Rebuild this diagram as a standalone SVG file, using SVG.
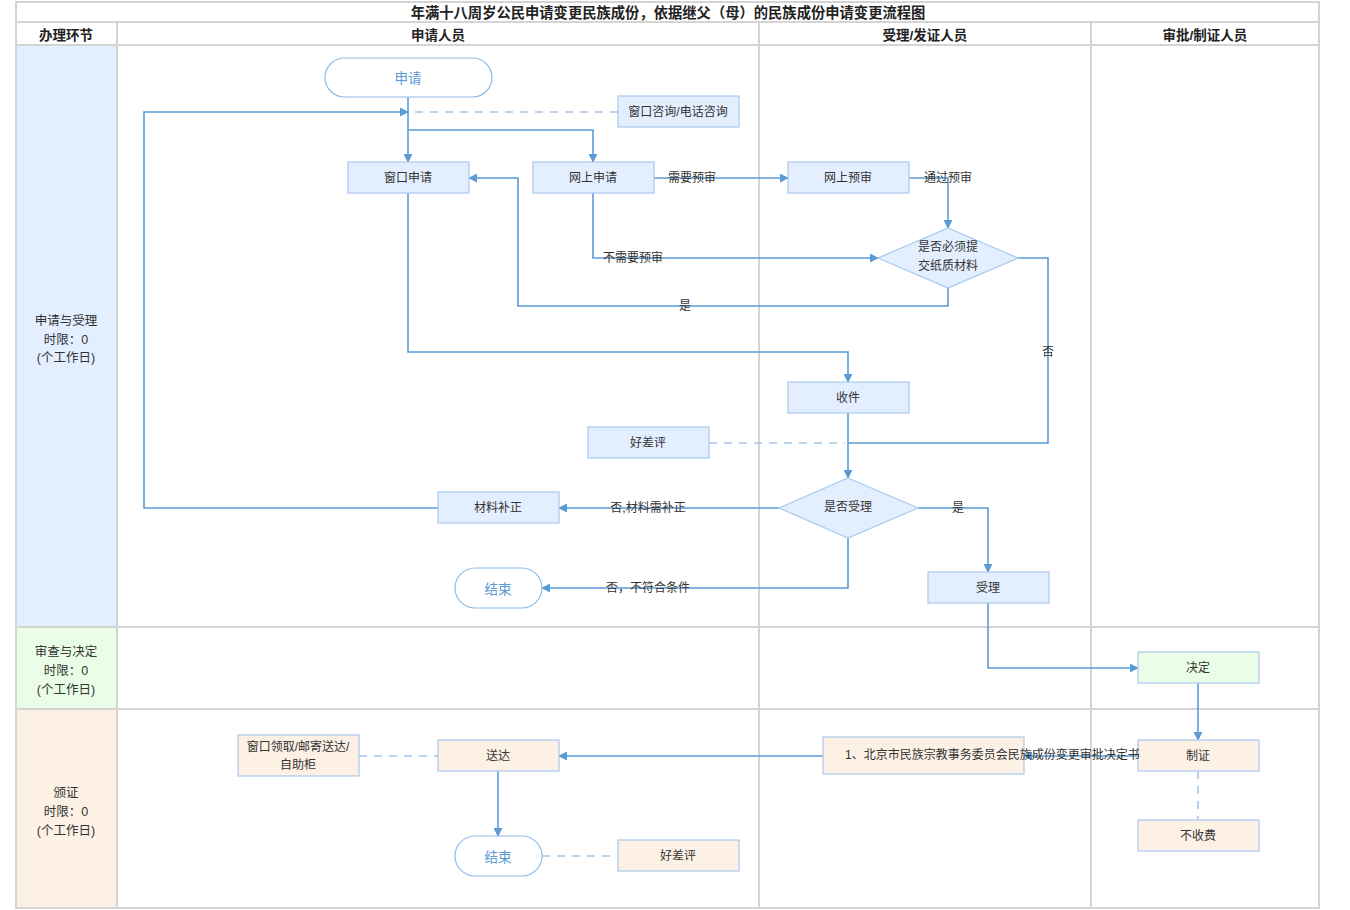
<svg xmlns="http://www.w3.org/2000/svg" width="1350" height="910" viewBox="0 0 1350 910">
<style>
text{font-family:"Liberation Sans","Noto Sans CJK SC",sans-serif;font-size:12px;fill:#333;text-anchor:middle;dominant-baseline:central}
.hd{font-size:13.5px;font-weight:bold;fill:#222}
.ti{font-size:14.3px;font-weight:bold;fill:#222}
.lb{font-size:12.5px}
.grid{stroke:#d4d4d4;stroke-width:2;fill:none}
.n{fill:#e3eeff;stroke:#a9c9ee;stroke-width:1.2}
.g{fill:#eafde6;stroke:#a9c9ee;stroke-width:1.2}
.o{fill:#fdf1e6;stroke:#a9c9ee;stroke-width:1.2}
.t{fill:#fff;stroke:#8fbbe6;stroke-width:1.2}
.tt{fill:#5b9bd5;font-size:13.5px}
.e{fill:none;stroke:#5b9bd5;stroke-width:1.6}
.ea{fill:none;stroke:#5b9bd5;stroke-width:1.6;marker-end:url(#ah)}
.d{fill:none;stroke:#a3c6ea;stroke-width:1.6;stroke-dasharray:8 7}
</style>
<defs>
<marker id="ah" viewBox="0 0 10 10" refX="9" refY="5" markerWidth="9" markerHeight="9" markerUnits="userSpaceOnUse" orient="auto"><path d="M0,0 L10,5 L0,10 z" fill="#5b9bd5"/></marker>
</defs>
<rect width="1350" height="910" fill="#fff"/>
<g id="lanes">
<rect x="16" y="45" width="101" height="582" fill="#e3eeff"/>
<rect x="16" y="627" width="101" height="82" fill="#eafde6"/>
<rect x="16" y="709" width="101" height="199" fill="#fdf1e6"/>
<rect class="grid" x="16" y="2" width="1303" height="906"/>
<line class="grid" x1="16" y1="22" x2="1319" y2="22"/>
<line class="grid" x1="16" y1="45" x2="1319" y2="45"/>
<line class="grid" x1="16" y1="627" x2="1319" y2="627"/>
<line class="grid" x1="16" y1="709" x2="1319" y2="709"/>
<line class="grid" x1="117" y1="22" x2="117" y2="908"/>
<line class="grid" x1="759" y1="22" x2="759" y2="908"/>
<line class="grid" x1="1091" y1="22" x2="1091" y2="908"/>
<text class="ti" x="668" y="13">年满十八周岁公民申请变更民族成份，依据继父（母）的民族成份申请变更流程图</text>
<text class="hd" x="66" y="35">办理环节</text>
<text class="hd" x="438" y="35">申请人员</text>
<text class="hd" x="925" y="35">受理/发证人员</text>
<text class="hd" x="1205" y="35">审批/制证人员</text>
<text class="lb" x="66" y="321">申请与受理</text><text class="lb" x="66" y="340">时限：0</text><text class="lb" x="66" y="358">(个工作日)</text>
<text class="lb" x="66" y="652">审查与决定</text><text class="lb" x="66" y="671">时限：0</text><text class="lb" x="66" y="690">(个工作日)</text>
<text class="lb" x="66" y="793">颁证</text><text class="lb" x="66" y="812">时限：0</text><text class="lb" x="66" y="831">(个工作日)</text>
</g>
<g id="connectors">
<line class="ea" x1="408" y1="97" x2="408" y2="162"/>
<polyline class="ea" points="408,130 593,130 593,162"/>
<polyline class="ea" points="438,508 144,508 144,112 408,112"/>
<line class="d" x1="618" y1="112" x2="412" y2="112"/>
<line class="ea" x1="654" y1="178" x2="788" y2="178"/>
<text x="692" y="178">需要预审</text>
<polyline class="ea" points="909,178 948,178 948,228"/>
<text x="948" y="178">通过预审</text>
<polyline class="ea" points="593,193 593,258 878,258"/>
<text x="633" y="258">不需要预审</text>
<polyline class="ea" points="948,288 948,306 518,306 518,178 469,178"/>
<text x="685" y="306">是</text>
<polyline class="e" points="1018,258 1048,258 1048,443 848,443"/>
<text x="1048" y="352">否</text>
<polyline class="ea" points="408,193 408,352 848,352 848,382"/>
<line class="ea" x1="848" y1="413" x2="848" y2="478"/>
<line class="d" x1="709" y1="443" x2="845" y2="443"/>
<line class="ea" x1="779" y1="508" x2="559" y2="508"/>
<text x="648" y="508">否,材料需补正</text>
<polyline class="ea" points="848,538 848,588 542,588"/>
<text x="648" y="588">否，不符合条件</text>
<polyline class="ea" points="918,508 988,508 988,572"/>
<text x="958" y="508">是</text>
<polyline class="ea" points="988,603 988,668 1138,668"/>
<line class="ea" x1="1198" y1="683" x2="1198" y2="740"/>
<line class="ea" x1="1138" y1="756" x2="1024" y2="756"/>
<line class="ea" x1="823" y1="756" x2="559" y2="756"/>
<line class="d" x1="1198" y1="771" x2="1198" y2="820"/>
<line class="d" x1="359" y1="756" x2="438" y2="756"/>
<line class="ea" x1="498" y1="771" x2="498" y2="836"/>
<line class="d" x1="542" y1="856" x2="618" y2="856"/>
</g>
<g id="n-start"><rect class="t" x="325" y="58" width="167" height="39" rx="19.5"/><text class="tt" x="408" y="78">申请</text></g>
<g id="n-consult"><rect class="n" x="618" y="96" width="121" height="31"/><text x="678" y="112">窗口咨询/电话咨询</text></g>
<g id="n-window"><rect class="n" x="348" y="162" width="121" height="31"/><text x="408" y="178">窗口申请</text></g>
<g id="n-online"><rect class="n" x="533" y="162" width="121" height="31"/><text x="593" y="178">网上申请</text></g>
<g id="n-precheck"><rect class="n" x="788" y="162" width="121" height="31"/><text x="848" y="178">网上预审</text></g>
<g id="n-paper"><polygon class="n" points="948,228 1018,258 948,288 878,258"/><text x="948" y="247">是否必须提</text><text x="948" y="266">交纸质材料</text></g>
<g id="n-receive"><rect class="n" x="788" y="382" width="121" height="31"/><text x="848" y="398">收件</text></g>
<g id="n-eval1"><rect class="n" x="588" y="427" width="121" height="31"/><text x="648" y="443">好差评</text></g>
<g id="n-accept-q"><polygon class="n" points="848,478 918,508 848,538 779,508"/><text x="848" y="507">是否受理</text></g>
<g id="n-supplement"><rect class="n" x="438" y="492" width="121" height="31"/><text x="498" y="508">材料补正</text></g>
<g id="n-end1"><rect class="t" x="455" y="568" width="87" height="40" rx="20"/><text class="tt" x="498" y="589">结束</text></g>
<g id="n-accept"><rect class="n" x="928" y="572" width="121" height="31"/><text x="988" y="588">受理</text></g>
<g id="n-decide"><rect class="g" x="1138" y="652" width="121" height="31"/><text x="1198" y="668">决定</text></g>
<g id="n-make"><rect class="o" x="1138" y="740" width="121" height="31"/><text x="1198" y="756">制证</text></g>
<g id="n-fee"><rect class="o" x="1138" y="820" width="121" height="31"/><text x="1198" y="836">不收费</text></g>
<g id="n-doc"><rect class="o" x="823" y="737" width="201" height="37"/><text x="845" y="755" style="text-anchor:start">1、北京市民族宗教事务委员会民族成份变更审批决定书</text></g>
<g id="n-deliver"><rect class="o" x="438" y="740" width="121" height="31"/><text x="498" y="756">送达</text></g>
<g id="n-pickup"><rect class="o" x="238" y="735" width="121" height="41"/><text x="298" y="747">窗口领取/邮寄送达/</text><text x="298" y="765">自助柜</text></g>
<g id="n-end2"><rect class="t" x="455" y="836" width="87" height="40" rx="20"/><text class="tt" x="498" y="857">结束</text></g>
<g id="n-eval2"><rect class="o" x="618" y="840" width="121" height="31"/><text x="678" y="856">好差评</text></g>
</svg>
